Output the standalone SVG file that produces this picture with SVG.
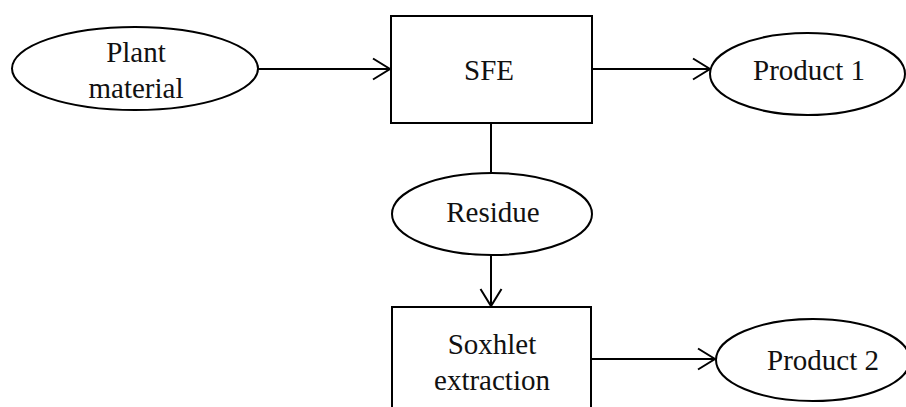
<svg xmlns="http://www.w3.org/2000/svg" width="906" height="407" viewBox="0 0 906 407">
<style>
.shape{fill:#fff;stroke:#000;stroke-width:2}
.lbl{font-family:"Liberation Serif","Times New Roman",serif;font-size:29px;fill:#111;text-anchor:middle}
.conn{fill:none;stroke:#000;stroke-width:2}
</style>
<defs>
<marker id="arr" markerUnits="userSpaceOnUse" viewBox="-20 -13 22 26" markerWidth="22" markerHeight="26" refX="0" refY="0" orient="auto">
<path d="M-17,-10.5 L0,0 L-17,10.5" fill="none" stroke="#000" stroke-width="2"/>
</marker>
</defs>
<rect width="906" height="407" fill="#fff"/>
<g id="connectors">
<line class="conn" x1="258" y1="69" x2="390" y2="69" marker-end="url(#arr)"/>
<line class="conn" x1="592" y1="69" x2="710" y2="69" marker-end="url(#arr)"/>
<line class="conn" x1="491" y1="123" x2="491" y2="173"/>
<line class="conn" x1="491" y1="255" x2="491" y2="306" marker-end="url(#arr)"/>
<line class="conn" x1="591" y1="359" x2="715" y2="359" marker-end="url(#arr)"/>
</g>
<g id="plant-material">
<ellipse class="shape" cx="135" cy="68.5" rx="123" ry="41.5"/>
<text class="lbl" x="136" y="62">Plant</text>
<text class="lbl" x="136" y="98">material</text>
</g>
<g id="sfe">
<rect class="shape" x="391" y="16" width="201" height="107"/>
<text class="lbl" x="489" y="80">SFE</text>
</g>
<g id="product-1">
<ellipse class="shape" cx="807.5" cy="74" rx="97.5" ry="41"/>
<text class="lbl" x="809" y="80">Product 1</text>
</g>
<g id="residue">
<ellipse class="shape" cx="492" cy="214" rx="100" ry="41"/>
<text class="lbl" x="493" y="222">Residue</text>
</g>
<g id="soxhlet">
<rect class="shape" x="392" y="307" width="199" height="115"/>
<text class="lbl" x="492" y="354">Soxhlet</text>
<text class="lbl" x="492" y="390">extraction</text>
</g>
<g id="product-2">
<ellipse class="shape" cx="813" cy="360" rx="97" ry="41"/>
<text class="lbl" x="823" y="370">Product 2</text>
</g>
</svg>
